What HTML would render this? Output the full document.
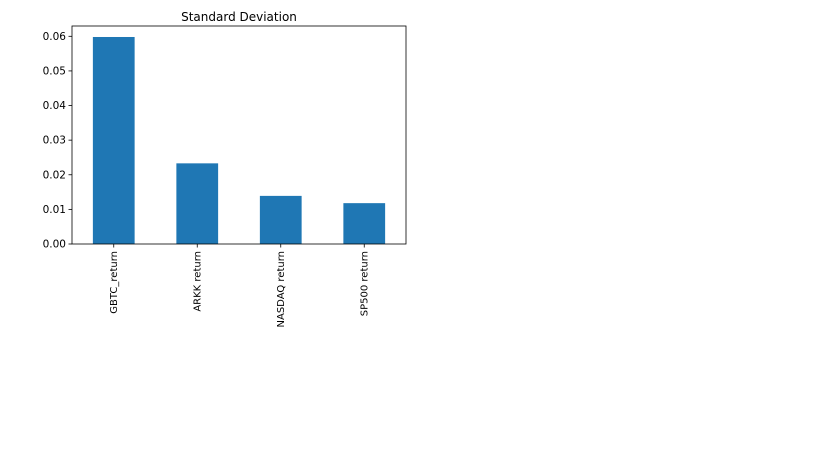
<!DOCTYPE html>
<html><head><meta charset="utf-8"><style>
html,body{margin:0;padding:0;background:#fff;width:819px;height:460px;overflow:hidden}
text{font-family:"DejaVu Sans","Liberation Sans",sans-serif;fill:#000}
</style></head><body>
<svg id="chart" width="819" height="460" xmlns="http://www.w3.org/2000/svg">
<text x="239" y="21" font-size="12" text-anchor="middle">Standard Deviation</text>
<g id="plot"></g>
</svg>
<script>
const categories = ["GBTC_return","ARKK return","NASDAQ return","SP500 return"];
const values = [0.0598,0.0233,0.0139,0.0118];
const yTicks = [0,0.01,0.02,0.03,0.04,0.05,0.06];
const yTickLabels = ["0.00","0.01","0.02","0.03","0.04","0.05","0.06"];

const L=72, R=406, T=26, B=244;
const NS="http://www.w3.org/2000/svg";
const g=document.getElementById('plot');
function y(v){return B - v/0.06*(B-36.3);}
function xc(i){const w=(R-L)/categories.length;return L+w*(i+0.5);}
function mk(t,a){const e=document.createElementNS(NS,t);for(const k in a)e.setAttribute(k,a[k]);g.appendChild(e);return e;}
const bw=(R-L)/categories.length*0.5;
values.forEach((v,i)=>{
  const r=mk('rect',{x:xc(i)-bw/2,y:y(v),width:bw,height:B-y(v),fill:'#1f77b4'});
  
  
  const tk=mk('line',{x1:xc(i),x2:xc(i),y1:B,y2:B+3.5,stroke:'#000','stroke-width':0.8});
  
  
  const cx=xc(i)+3, cy=B+7;
  const t=mk('text',{x:cx,y:cy,'font-size':10,'text-anchor':'end',transform:`rotate(-90 ${cx} ${cy})`});
  t.textContent=categories[i];
  
  
});
yTicks.forEach((v,i)=>{
  const tk=mk('line',{x1:L-3.5,x2:L,y1:y(v),y2:y(v),stroke:'#000','stroke-width':0.8});
  
  
  const t=mk('text',{x:L-6,y:y(v)+3.5,'font-size':10.5,'text-anchor':'end'});
  t.textContent=yTickLabels[i];
  
  
});
const fr=mk('rect',{x:L,y:T,width:R-L,height:B-T,fill:'none',stroke:'#000','stroke-width':0.8});


</script>
</body></html>
